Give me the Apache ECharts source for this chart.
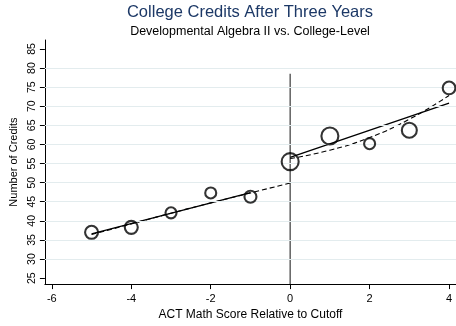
<!DOCTYPE html>
<html>
<head>
<meta charset="utf-8">
<script src="https://cdn.jsdelivr.net/npm/echarts@6/dist/echarts.min.js"></script>
<style>
  html, body { margin: 0; padding: 0; background: #fff; }
  #chart { width: 456px; height: 326px; }
</style>
</head>
<body>
<div id="chart"></div>
<script>
// ACT score relative to the placement cutoff
const scoreBins = [-5, -4, -3, -2, -1, 0, 1, 2, 3, 4];
// Mean credits earned after three years, per score bin
const meanCredits = [37.0, 38.3, 42.1, 47.3, 46.3, 55.5, 62.2, 60.2, 63.7, 74.8];
// Relative number of students in each bin (sets marker area)
const binWeight = [1.0, 1.0, 0.72, 0.72, 0.85, 1.71, 1.71, 0.72, 1.33, 0.95];

// Linear fits on each side of the cutoff
const linearLeftX = [-5, -1];
const linearLeftY = [36.6, 47.4];
const linearRightX = [0, 4];
const linearRightY = [56.6, 70.8];

// Quadratic fits on each side of the cutoff
const quadLeftX = [-5, -4, -3, -2, -1, 0];
const quadLeftY = [36.4, 39.2, 42.0, 44.7, 47.3, 49.9];
const quadRightX = [0, 1, 2, 3, 4];
const quadRightY = [56.3, 58.5, 61.8, 66.6, 72.8];

// Axis ticks and reference lines
const xTicks = [-6, -4, -2, 0, 2, 4];
const yTicks = [25, 30, 35, 40, 45, 50, 55, 60, 65, 70, 75, 80, 85];
const yGridLines = [30, 35, 40, 45, 50, 55, 60, 65, 70, 75, 80];
const cutoffScore = 0;
const cutoffLineTop = 78.5;

const xRange = [-6.175, 4.175];
const yRange = [23.44, 87.34];

const FONT = '"Liberation Sans", Arial, sans-serif';
const pairs = (xs, ys) => xs.map((x, i) => [x, ys[i]]);

const chart = echarts.init(document.getElementById('chart'), null, { renderer: 'canvas' });

chart.setOption({
  animation: false,
  backgroundColor: '#ffffff',
  title: [
    {
      text: 'College Credits After Three Years',
      left: 250, top: 3, textAlign: 'center', padding: 0,
      textStyle: { fontFamily: FONT, fontSize: 16.5, fontWeight: 'normal', color: '#1c3866', lineHeight: 18 }
    },
    {
      text: 'Developmental Algebra II vs. College-Level',
      left: 250, top: 25, textAlign: 'center', padding: 0,
      textStyle: { fontFamily: FONT, fontSize: 12.5, fontWeight: 'normal', color: '#000', lineHeight: 14 }
    }
  ],
  grid: { left: 42, right: 0, top: 40, bottom: 40, containLabel: false },
  xAxis: {
    type: 'value',
    min: xRange[0], max: xRange[1],
    name: 'ACT Math Score Relative to Cutoff',
    nameLocation: 'middle',
    nameGap: 20,
    nameTextStyle: { fontFamily: FONT, fontSize: 12, color: '#000' },
    axisLine: { show: true, onZero: false, lineStyle: { color: '#000', width: 1 } },
    axisTick: { show: true, length: 5, customValues: xTicks, lineStyle: { color: '#000' } },
    axisLabel: { customValues: xTicks, margin: 9, fontFamily: FONT, fontSize: 11, color: '#000',
                 formatter: v => String(v) },
    splitLine: { show: false }
  },
  yAxis: {
    type: 'value',
    min: yRange[0], max: yRange[1],
    name: 'Number of Credits',
    nameLocation: 'middle',
    nameGap: 20,
    nameRotate: 90,
    nameTextStyle: { fontFamily: FONT, fontSize: 11, color: '#000' },
    axisLine: { show: true, onZero: false, lineStyle: { color: '#000', width: 1 } },
    axisTick: { show: true, length: 5, customValues: yTicks, lineStyle: { color: '#000' } },
    axisLabel: { customValues: yTicks, rotate: 90, margin: 7, fontFamily: FONT, fontSize: 10.5, color: '#000' },
    splitLine: { show: false }
  },
  series: [
    {
      // horizontal grid lines
      type: 'line',
      data: [],
      silent: true,
      markLine: {
        silent: true,
        symbol: 'none',
        label: { show: false },
        lineStyle: { color: '#e3ecee', width: 1, type: 'solid' },
        data: yGridLines.map(v => ({ yAxis: v }))
      }
    },
    {
      name: 'Cutoff',
      type: 'line',
      data: [[cutoffScore, yRange[0]], [cutoffScore, cutoffLineTop]],
      symbol: 'none',
      lineStyle: { color: '#555555', width: 1.4 },
      z: 2
    },
    {
      name: 'Linear fit (below)',
      type: 'line',
      data: pairs(linearLeftX, linearLeftY),
      symbol: 'none',
      lineStyle: { color: '#000', width: 1.4 },
      z: 3
    },
    {
      name: 'Linear fit (above)',
      type: 'line',
      data: pairs(linearRightX, linearRightY),
      symbol: 'none',
      lineStyle: { color: '#000', width: 1.4 },
      z: 3
    },
    {
      name: 'Quadratic fit (below)',
      type: 'line',
      data: pairs(quadLeftX, quadLeftY),
      smooth: true,
      symbol: 'none',
      lineStyle: { color: '#000', width: 1.1, type: [5, 3] },
      z: 3
    },
    {
      name: 'Quadratic fit (above)',
      type: 'line',
      data: pairs(quadRightX, quadRightY),
      smooth: true,
      symbol: 'none',
      lineStyle: { color: '#000', width: 1.1, type: [5, 3] },
      z: 3
    },
    {
      name: 'Bin means',
      type: 'scatter',
      data: scoreBins.map((x, i) => ({ value: [x, meanCredits[i]], symbolSize: 13 * Math.sqrt(binWeight[i]) })),
      symbol: 'circle',
      itemStyle: { color: 'rgba(0,0,0,0)', borderColor: '#000', borderWidth: 2.1 },
      z: 5
    }
  ]
});
</script>
</body>
</html>
